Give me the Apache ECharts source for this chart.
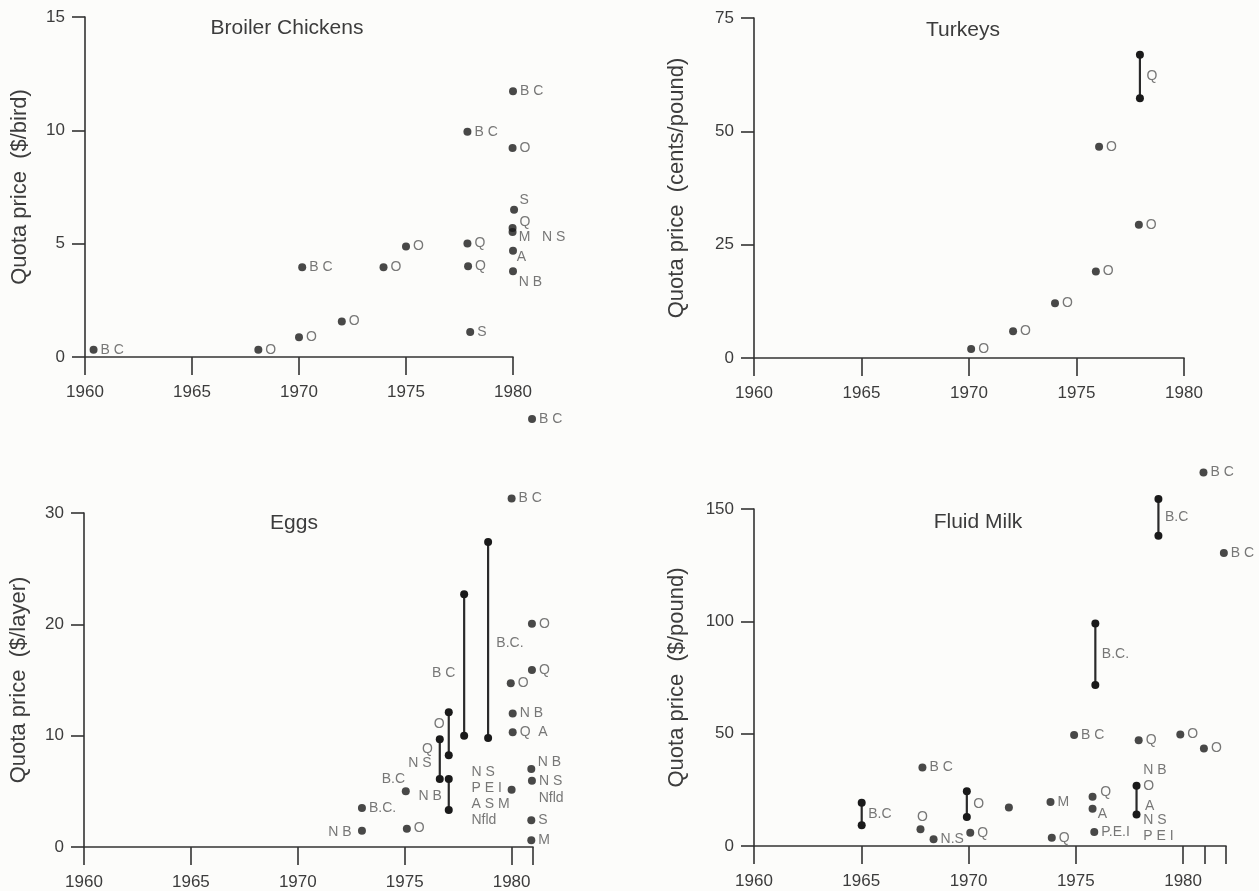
<!DOCTYPE html>
<html><head><meta charset="utf-8">
<script src="https://cdn.jsdelivr.net/npm/echarts@6/dist/echarts.min.js"></script>
<style>html,body{margin:0;padding:0;background:#fcfcfa}#c{width:1259px;height:891px}</style>
</head><body><div id="c"></div>
<script>
// ---------- DATA ----------
const yearLabels = [1960, 1965, 1970, 1975, 1980];

const broilerPoints = [
  [1960.4, 0.32, 'B C'], [1968.1, 0.32, 'O'], [1970.0, 0.87, 'O'], [1970.15, 3.96, 'B C'],
  [1972.0, 1.57, 'O'], [1973.95, 3.96, 'O'], [1975.0, 4.88, 'O'], [1977.87, 9.94, 'B C'],
  [1977.87, 5.01, 'Q'], [1977.9, 4.0, 'Q'], [1978.0, 1.1, 'S'], [1980.0, 11.72, 'B C'],
  [1979.98, 9.22, 'O'], [1980.05, 6.5, ''], [1979.98, 5.69, ''], [1979.98, 5.51, ''],
  [1980.0, 4.69, ''], [1980.0, 3.78, ''], [1980.89, -2.74, 'B C']
];
const broilerRanges = [];
const broilerNotes = [
  [1980.28, 6.94, 'S'], [1980.28, 5.94, 'Q'], [1980.24, 5.29, 'M   N S'],
  [1980.15, 4.40, 'A'], [1980.24, 3.29, 'N B']
];

const turkeyPoints = [
  [1970.1, 2.0, 'O'], [1972.05, 5.9, 'O'], [1974.0, 12.1, 'O'],
  [1975.9, 19.1, 'O'], [1976.05, 46.6, 'O'], [1977.9, 29.4, 'O']
];
const turkeyRanges = [[1977.95, 57.3, 66.9, 'Q']];
const turkeyNotes = [];

const eggPoints = [
  [1973.0, 1.45, ''], [1973.0, 3.5, 'B.C.'], [1975.1, 1.65, 'O'], [1975.05, 5.0, ''],
  [1980.0, 31.3, 'B C'], [1979.96, 14.7, 'O'], [1980.05, 12.0, 'N B'], [1980.05, 10.3, 'Q  A'],
  [1980.0, 5.15, ''], [1980.95, 20.05, 'O'], [1980.95, 15.9, 'Q'], [1980.92, 7.0, ''],
  [1980.95, 5.95, 'N S'], [1980.92, 2.4, 'S'], [1980.92, 0.6, 'M']
];
const eggRanges = [
  [1976.64, 6.1, 9.67, ''], [1977.06, 8.24, 12.1, ''], [1977.06, 3.32, 6.1, ''],
  [1977.78, 10.0, 22.7, ''], [1978.9, 9.8, 27.4, '']
];
const eggNotes = [
  [1971.4, 1.35, 'N B'], [1973.9, 6.14, 'B.C'], [1975.62, 4.55, 'N B'], [1975.14, 7.54, 'N S'],
  [1975.78, 8.83, 'Q'], [1976.34, 11.08, 'O'], [1976.25, 15.66, 'B C'], [1979.26, 18.35, 'B.C.'],
  [1978.1, 4.55, 'N S\nP E I\nA S M\nNfld'], [1981.2, 7.63, 'N B'], [1981.24, 4.43, 'Nfld']
];

const milkPoints = [
  [1967.76, 7.4, ''], [1967.85, 34.9, 'B C'], [1968.37, 3.0, 'N.S'], [1970.08, 5.9, 'Q'],
  [1971.88, 17.1, ''], [1973.82, 19.6, 'M'], [1973.88, 3.7, 'Q'], [1974.92, 49.4, 'B C'],
  [1975.78, 21.9, ''], [1975.78, 16.6, ''], [1975.86, 6.2, 'P.E.I'], [1977.93, 47.1, 'Q'],
  [1979.87, 49.6, 'O'], [1980.97, 43.4, 'O'], [1980.95, 166.3, 'B C'], [1981.9, 130.4, 'B C']
];
const milkRanges = [
  [1965.02, 9.2, 19.2, 'B.C'], [1969.92, 12.9, 24.4, 'O'], [1975.91, 71.7, 99.0, 'B.C.'],
  [1977.83, 14.0, 26.8, ''], [1978.85, 138.1, 154.4, 'B.C']
];
const milkNotes = [
  [1967.57, 12.9, 'O'], [1976.12, 24.1, 'Q'], [1976.0, 14.4, 'A'], [1978.12, 33.7, 'N B'],
  [1978.12, 26.8, 'O'], [1978.2, 17.8, 'A'], [1978.12, 11.4, 'N S'], [1978.12, 4.3, 'P E I']
];

const titles = ['Broiler Chickens', 'Turkeys', 'Eggs', 'Fluid Milk'];
const yNames = ['Quota price  ($/bird)', 'Quota price  (cents/pound)', 'Quota price  ($/layer)', 'Quota price  ($/pound)'];
const yMaxes = [15, 75, 30, 150];
const yIntervals = [5, 25, 10, 50];
const xMaxes = [1980, 1980, 1981, 1982];
const xTickYears = [
  [1960, 1965, 1970, 1975, 1980],
  [1960, 1965, 1970, 1975, 1980],
  [1960, 1965, 1970, 1975, 1980, 1981],
  [1960, 1965, 1970, 1975, 1980, 1981, 1982]
];

// ---------- LAYOUT / STYLE ----------
const FONT = '"Liberation Sans", Arial, Helvetica, sans-serif';
const grids = [
  {left: 85, top: 17, width: 428, height: 340},
  {left: 754, top: 18, width: 430, height: 340},
  {left: 84, top: 513, width: 449, height: 334},
  {left: 754, top: 509, width: 472, height: 337}
];
const titlePos = [[287, 28], [963, 30], [294, 523], [978, 522]];
const nameGaps = [54, 66, 54, 66];
const panels = [
  [broilerPoints, broilerRanges, broilerNotes],
  [turkeyPoints, turkeyRanges, turkeyNotes],
  [eggPoints, eggRanges, eggNotes],
  [milkPoints, milkRanges, milkNotes]
];

const AXIS_COLOR = '#333';
const TEXT_COLOR = '#3c3c3c';
const LABEL_COLOR = '#555';
const DOT_COLOR = '#1a1a1a';

const option = {
  backgroundColor: '#fcfcfa',
  animation: false,
  textStyle: {fontFamily: FONT},
  grid: grids.map(g => Object.assign({containLabel: false}, g)),
  xAxis: grids.map((g, i) => ({
    type: 'value', gridIndex: i, min: 1960, max: xMaxes[i], interval: 5,
    axisLine: {show: true, onZero: false, lineStyle: {color: AXIS_COLOR, width: 1.6}},
    axisTick: {show: true, length: 18, customValues: xTickYears[i], lineStyle: {color: AXIS_COLOR, width: 1.6}},
    axisLabel: {customValues: yearLabels, margin: 27, fontSize: 17, color: TEXT_COLOR, fontFamily: FONT,
      formatter: v => String(v)},
    splitLine: {show: false}
  })),
  yAxis: grids.map((g, i) => ({
    type: 'value', gridIndex: i, min: 0, max: yMaxes[i], interval: yIntervals[i],
    name: yNames[i], nameLocation: 'middle', nameGap: nameGaps[i],
    nameTextStyle: {fontSize: 22, color: TEXT_COLOR, fontFamily: FONT},
    axisLine: {show: true, lineStyle: {color: AXIS_COLOR, width: 1.6}},
    axisTick: {show: true, length: 13, lineStyle: {color: AXIS_COLOR, width: 1.6}},
    axisLabel: {margin: 20, fontSize: 17, color: TEXT_COLOR, fontFamily: FONT},
    splitLine: {show: false}
  })),
  graphic: titles.map((t, i) => ({
    type: 'text', x: titlePos[i][0], y: titlePos[i][1],
    style: {text: t, fontSize: 21, fill: TEXT_COLOR, fontFamily: FONT, align: 'center', verticalAlign: 'middle'}
  })),
  series: []
};

const labelStyle = {fontSize: 14, color: LABEL_COLOR, fontFamily: FONT};

panels.forEach(([points, ranges, notes], i) => {
  option.series.push({
    type: 'scatter', xAxisIndex: i, yAxisIndex: i, clip: false,
    symbol: 'circle', symbolSize: 8, itemStyle: {color: DOT_COLOR},
    data: points.map(p => ({value: [p[0], p[1]], name: p[2]})),
    label: Object.assign({show: true, position: 'right', distance: 3, formatter: '{b}'}, labelStyle)
  });
  if (ranges.length) {
    option.series.push({
      type: 'custom', xAxisIndex: i, yAxisIndex: i, clip: false,
      encode: {x: 0, y: [1, 2]},
      data: ranges.map(r => [r[0], r[1], r[2]]),
      renderItem: (params, api) => {
        const x = api.value(0), lo = api.value(1), hi = api.value(2);
        const a = api.coord([x, lo]), b = api.coord([x, hi]);
        return {type: 'group', children: [
          {type: 'line', shape: {x1: a[0], y1: a[1], x2: b[0], y2: b[1]}, style: {stroke: '#2a2a2a', lineWidth: 2.2}},
          {type: 'circle', shape: {cx: a[0], cy: a[1], r: 4}, style: {fill: DOT_COLOR}},
          {type: 'circle', shape: {cx: b[0], cy: b[1], r: 4}, style: {fill: DOT_COLOR}}
        ]};
      }
    });
  }
  const rangeNotes = ranges.filter(r => r[3]).map(r => ({value: [r[0], (r[1] + r[2]) / 2], name: r[3], dist: 6}));
  const allNotes = notes.map(n => ({value: [n[0], n[1]], name: n[2], dist: 0})).concat(rangeNotes);
  option.series.push({
    type: 'scatter', xAxisIndex: i, yAxisIndex: i, clip: false, silent: true,
    symbol: 'circle', symbolSize: 1, itemStyle: {color: 'rgba(0,0,0,0)'},
    data: allNotes.map(n => ({value: n.value, name: n.name,
      label: {distance: n.dist}})),
    label: Object.assign({show: true, position: 'right', formatter: '{b}', lineHeight: 16}, labelStyle)
  });
});

const chart = echarts.init(document.getElementById('c'), null, {renderer: 'canvas'});
chart.setOption(option);
</script>
</body></html>
